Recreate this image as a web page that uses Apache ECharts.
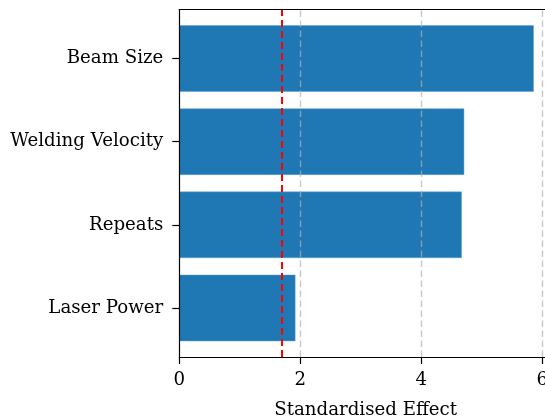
<!DOCTYPE html>
<html>
<head>
<meta charset="utf-8">
<script src="https://cdn.jsdelivr.net/npm/echarts@6/dist/echarts.min.js"></script>
<style>
  html, body { margin: 0; padding: 0; background: #fff; }
  #chart { width: 545px; height: 418px; }
</style>
</head>
<body>
<div id="chart"></div>
<script>
// Factor names, top to bottom
const factors = ['Beam Size', 'Welding Velocity', 'Repeats', 'Laser Power'];
// Standardised effect of each factor
const effects = [5.86, 4.71, 4.67, 1.92];
// Significance threshold (critical value)
const threshold = 1.70;
// Gridline positions on the effect axis
const gridValues = [2, 4, 6];
// Effect axis extent
const xMin = 0;
const xMax = 6.16;

const FONT = 'DejaVu Serif';
const LABEL_SIZE = 18.2;

// Plot frame geometry
const plotLeft = 179.3;
const plotTop = 9.5;
const plotHeight = 347.5;
const unitPx = 60.5;
const plotWidth = (xMax - xMin) * unitPx;
// Category band: data spans -0.59 .. 3.59 in category units
const band = plotHeight / 4.18;
const barTop = plotTop + 0.09 * band;

const chart = echarts.init(document.getElementById('chart'), null, { renderer: 'canvas' });

const spine = { show: true, lineStyle: { color: '#000', width: 1.2 } };
const tickStyle = { color: '#000', width: 1.2 };

chart.setOption({
  animation: false,
  backgroundColor: '#fff',
  grid: [
    { left: plotLeft, top: plotTop, width: plotWidth, height: plotHeight,
      containLabel: false, outerBoundsMode: 'none' },
    { left: plotLeft, top: barTop, width: plotWidth, height: band * 4,
      containLabel: false, outerBoundsMode: 'none' }
  ],
  xAxis: [
    {
      gridIndex: 0, type: 'value', min: xMin, max: xMax, interval: 2,
      position: 'bottom', z: 10,
      axisLine: spine,
      axisTick: { show: true, length: 7, lineStyle: tickStyle },
      axisLabel: {
        margin: 14, fontFamily: FONT, fontSize: LABEL_SIZE, color: '#000',
        showMaxLabel: false, hideOverlap: false
      },
      splitLine: { show: false },
      name: 'Standardised Effect', nameLocation: 'middle', nameGap: 44,
      nameTextStyle: { fontFamily: FONT, fontSize: LABEL_SIZE, color: '#000' }
    },
    {
      gridIndex: 0, type: 'value', min: xMin, max: xMax, position: 'top', z: 10,
      axisLine: spine, axisTick: { show: false }, axisLabel: { show: false },
      splitLine: { show: false }
    },
    {
      gridIndex: 1, type: 'value', min: xMin, max: xMax, show: false
    }
  ],
  yAxis: [
    {
      gridIndex: 0, type: 'value', min: 0, max: 1, z: 10,
      axisLine: spine, axisTick: { show: false }, axisLabel: { show: false },
      splitLine: { show: false }
    },
    {
      gridIndex: 1, type: 'category', data: factors, inverse: true,
      axisLine: { show: false },
      axisTick: { show: true, alignWithLabel: true, length: 7, lineStyle: tickStyle },
      axisLabel: {
        margin: 16, fontFamily: FONT, fontSize: LABEL_SIZE, color: '#000',
        padding: [4, 0, 0, 0]
      },
      splitLine: { show: false }
    }
  ],
  series: [
    {
      type: 'bar', xAxisIndex: 2, yAxisIndex: 1, data: effects,
      barWidth: '80%', z: 2,
      itemStyle: { color: '#1f77b4', borderColor: 'rgba(90,160,210,0.8)', borderWidth: 0.6 }
    },
    {
      // Reference lines drawn over the bars: gridlines and the threshold
      type: 'scatter', xAxisIndex: 0, yAxisIndex: 0, data: [], z: 5,
      silent: true,
      markLine: {
        silent: true, symbol: 'none', label: { show: false },
        animation: false,
        data: gridValues.map(v => ({
          xAxis: v,
          lineStyle: { color: 'rgba(176,176,176,0.7)', width: 1.4, type: [6.5, 3.5] }
        })).concat([{
          xAxis: threshold,
          lineStyle: { color: '#ff0000', width: 2, type: [7, 4] }
        }])
      }
    }
  ]
});
</script>
</body>
</html>
